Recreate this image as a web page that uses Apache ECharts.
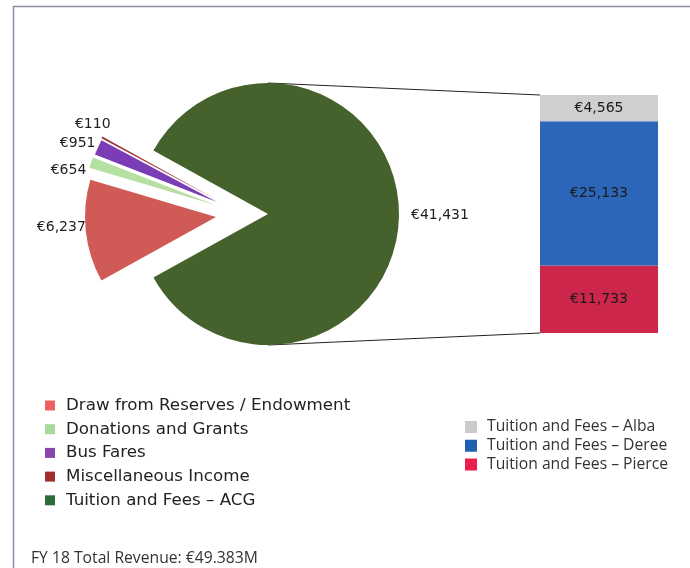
<!DOCTYPE html>
<html><head><meta charset="utf-8">
<script src="https://cdn.jsdelivr.net/npm/echarts@6/dist/echarts.min.js"></script>
<style>html,body{margin:0;padding:0;background:#fff}#c{width:690px;height:568px}</style>
</head><body><div id="c"></div>
<script>
// ---- data ----
const pieCategories = ['Draw from Reserves / Endowment', 'Donations and Grants', 'Bus Fares', 'Miscellaneous Income', 'Tuition and Fees – ACG'];
const pieValues = [6237, 654, 951, 110, 41431];
const barCategories = ['Tuition and Fees – Alba', 'Tuition and Fees – Deree', 'Tuition and Fees – Pierce'];
const barValues = [4565, 25133, 11733];
const titleText = 'FY 18 Total Revenue: €49.383M';

// ---- styles / layout ----
const pieColors = ['#cf5a56', '#b6dfa2', '#7a3db6', '#a03636', '#45622c'];
const pieLegendColors = ['#f06262', '#a9d99b', '#8a45ad', '#a03030', '#2e6b3a'];
const barColors = ['#cfcfcf', '#2c66b8', '#cc264b'];
const barLegendColors = ['#cbcbcb', '#1e5fae', '#ea1f4c'];
const PIE_C = [268, 214], PIE_R = 131;
// explode offset of each slice (px) relative to the pie centre
const explode = [[-52, 3], [-53, -9], [-51, -12], [-51, -14], [0, 0]];
// fine shift of each outside label
const labelShift = [[10, -4], [5, 9], [7, -2], [18, -11], [2, 1]];
const GRID = {left: 540, top: 95, width: 118, height: 238};

const fmt = v => '€' + v.toLocaleString('en-US');
const chart = echarts.init(document.getElementById('c'), null, {renderer: 'canvas'});

// one pie series per slice so each slice can be exploded on its own
const pieSeries = pieValues.map((_, k) => ({
  type: 'pie', name: 'pie' + k,
  center: [PIE_C[0] + explode[k][0], PIE_C[1] + explode[k][1]],
  radius: PIE_R, startAngle: 209, clockwise: true,
  avoidLabelOverlap: false, z: 2,
  label: {show: true, position: 'outside', formatter: p => fmt(p.value),
    fontFamily: 'DejaVu Sans', fontSize: 14, color: '#1e1e1e'},
  labelLine: {show: false, length: 5, length2: 0},
  labelLayout: () => ({dx: labelShift[k][0], dy: labelShift[k][1]}),
  emphasis: {disabled: true},
  data: pieValues.map((v, i) => ({
    name: pieCategories[i], value: v,
    itemStyle: {color: i === k ? pieColors[i] : 'rgba(0,0,0,0)', borderWidth: 0},
    label: {show: i === k}
  }))
}));

const barSeries = [];
for (let i = barCategories.length - 1; i >= 0; i--) {
  barSeries.push({
    type: 'bar', name: barCategories[i], stack: 'acg',
    xAxisIndex: 0, yAxisIndex: 0, barWidth: '100%',
    itemStyle: {color: barColors[i]},
    label: {show: true, position: 'inside', formatter: p => fmt(p.value),
      fontFamily: 'DejaVu Sans', fontSize: 14, color: '#1a1a1a'},
    emphasis: {disabled: true},
    data: [barValues[i]]
  });
}

// connector lines: pie top/bottom to the top/bottom of the stacked bar (bar fills the grid: max = sum)
const barTopY = GRID.top, barBotY = GRID.top + GRID.height;

chart.setOption({
  animation: false,
  title: {text: titleText, left: 31, top: 551, padding: 0,
    textStyle: {fontFamily: 'Open Sans', fontSize: 15.7, fontWeight: 'normal', color: '#333'}},
  legend: [{
    orient: 'vertical', left: 45, top: 397, padding: 0, itemWidth: 10, itemHeight: 10, itemGap: 6.7,
    icon: 'rect', selectedMode: false,
    textStyle: {fontFamily: 'DejaVu Sans', fontSize: 16.7, color: '#222', padding: [0, 0, 0, 6]},
    data: pieCategories.map((n, i) => ({name: n, itemStyle: {color: pieLegendColors[i]}}))
  }, {
    orient: 'vertical', left: 465, top: 419, padding: 0, itemWidth: 12, itemHeight: 12, itemGap: 2.75,
    icon: 'rect', selectedMode: false,
    textStyle: {fontFamily: 'Open Sans', fontSize: 15.7, color: '#333', padding: [0, 0, 0, 5]},
    data: barCategories.map((n, i) => ({name: n, itemStyle: {color: barLegendColors[i]}}))
  }],
  grid: {left: GRID.left, top: GRID.top, width: GRID.width, height: GRID.height},
  xAxis: {type: 'category', data: ['ACG'], show: false},
  yAxis: {type: 'value', min: 0, max: barValues.reduce((a, b) => a + b, 0), show: false},
  graphic: [
    {type: 'rect', silent: true, shape: {x: 13.5, y: 6.5, width: 720, height: 620},
      style: {fill: 'none', stroke: '#8f8cab', lineWidth: 1.5}},
    {type: 'line', silent: true, shape: {x1: PIE_C[0], y1: PIE_C[1] - PIE_R, x2: GRID.left, y2: barTopY},
      style: {stroke: '#222', lineWidth: 1}, z: -1},
    {type: 'line', silent: true, shape: {x1: PIE_C[0], y1: PIE_C[1] + PIE_R, x2: GRID.left, y2: barBotY},
      style: {stroke: '#222', lineWidth: 1}, z: -1}
  ],
  series: pieSeries.concat(barSeries)
});
</script></body></html>
